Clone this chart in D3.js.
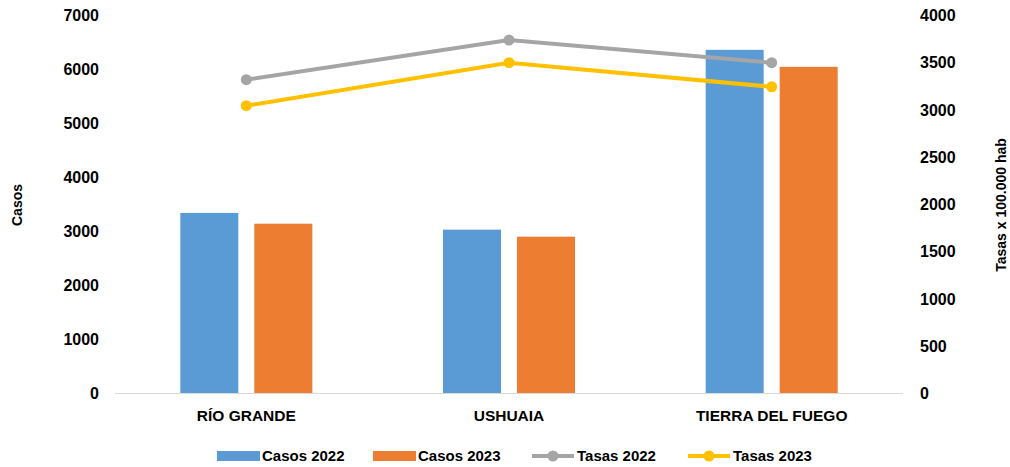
<!DOCTYPE html>
<html lang="es">
<head>
<meta charset="UTF-8">
<title>Casos y tasas</title>
<script src="https://cdn.jsdelivr.net/npm/d3@7"></script>
<style>
  body { margin: 0; background: #fff; }
  text { font-family: "Liberation Sans Narrow", "Arial Narrow", "Liberation Sans", sans-serif; font-weight: bold; fill: #000; }
</style>
</head>
<body>
<script>
    var width = 1010;
    var height = 467;

    var categories = ["RÍO GRANDE", "USHUAIA", "TIERRA DEL FUEGO"];
    var casos2022 = [3335, 3025, 6355];
    var casos2023 = [3135, 2895, 6040];
    var tasas2022 = [3315, 3735, 3495];
    var tasas2023 = [3040, 3495, 3240];
    var leftTicks = [0, 1000, 2000, 3000, 4000, 5000, 6000, 7000];
    var rightTicks = [0, 500, 1000, 1500, 2000, 2500, 3000, 3500, 4000];

    var colors = { c22: "#5b9bd5", c23: "#ed7d31", t22: "#a5a5a5", t23: "#ffc000" };

    var x0 = 115, x1 = 903, yTop = 15, yBase = 393;

    var svg = d3.select("body").append("svg")
        .attr("width", width)
        .attr("height", height)

    var x = d3.scaleBand().domain(categories).range([x0, x1]).padding(0)
    var yL = d3.scaleLinear().domain([0, 7000]).range([yBase, yTop])
    var yR = d3.scaleLinear().domain([0, 4000]).range([yBase, yTop])

    // bars
    var barW = 58, gap = 16;
    var bars = [
        { vals: casos2022, color: colors.c22, off: -gap / 2 - barW },
        { vals: casos2023, color: colors.c23, off: gap / 2 }
    ];
    bars.forEach(function(s) {
        svg.append("g").selectAll("rect")
            .data(s.vals)
            .join("rect")
            .attr("x", (d, i) => x(categories[i]) + x.bandwidth() / 2 + s.off)
            .attr("y", d => yL(d))
            .attr("width", barW)
            .attr("height", d => yBase - yL(d))
            .attr("fill", s.color)
    });

    // baseline
    svg.append("line")
        .attr("x1", x0).attr("x2", x1)
        .attr("y1", yBase + 0.5).attr("y2", yBase + 0.5)
        .attr("stroke", "#d9d9d9")
        .attr("stroke-width", 1)

    // left axis
    var axL = svg.append("g")
        .attr("transform", "translate(" + (x0 - 16) + ",0)")
        .call(d3.axisLeft(yL).tickValues(leftTicks).tickFormat(d3.format("d")).tickSize(0).tickPadding(0))
    axL.select(".domain").remove()
    axL.selectAll("text").style("font-size", "16px").attr("dy", "0.35em")

    // right axis
    var axR = svg.append("g")
        .attr("transform", "translate(" + (x1 + 17) + ",0)")
        .call(d3.axisRight(yR).tickValues(rightTicks).tickFormat(d3.format("d")).tickSize(0).tickPadding(0))
    axR.select(".domain").remove()
    axR.selectAll("text").style("font-size", "16px").attr("dy", "0.35em")

    // category labels
    svg.append("g").selectAll("text")
        .data(categories)
        .join("text")
        .attr("x", d => x(d) + x.bandwidth() / 2)
        .attr("y", 421)
        .attr("text-anchor", "middle")
        .style("font-size", "15.5px")
        .text(d => d)

    // lines
    var lineSeries = [
        { vals: tasas2022, color: colors.t22 },
        { vals: tasas2023, color: colors.t23 }
    ];
    var line = d3.line()
        .x((d, i) => x(categories[i]) + x.bandwidth() / 2)
        .y(d => yR(d))
    lineSeries.forEach(function(s) {
        svg.append("path")
            .datum(s.vals)
            .attr("d", line)
            .attr("fill", "none")
            .attr("stroke", s.color)
            .attr("stroke-width", 4)
        svg.append("g").selectAll("circle")
            .data(s.vals)
            .join("circle")
            .attr("cx", (d, i) => x(categories[i]) + x.bandwidth() / 2)
            .attr("cy", d => yR(d))
            .attr("r", 5.5)
            .attr("fill", s.color)
    });

    // axis titles
    svg.append("text")
        .attr("transform", "translate(22,205) rotate(-90)")
        .attr("text-anchor", "middle")
        .style("font-size", "14px")
        .text("Casos")
    svg.append("text")
        .attr("transform", "translate(1006,205) rotate(-90)")
        .attr("text-anchor", "middle")
        .style("font-size", "14px")
        .text("Tasas x 100.000 hab")

    // legend
    var legend = [
        { name: "Casos 2022", color: colors.c22, type: "rect", x: 217 },
        { name: "Casos 2023", color: colors.c23, type: "rect", x: 373 },
        { name: "Tasas 2022", color: colors.t22, type: "line", x: 532 },
        { name: "Tasas 2023", color: colors.t23, type: "line", x: 688 }
    ];
    var ly = 456;
    var lg = svg.append("g").selectAll("g").data(legend).join("g")
        .attr("transform", d => "translate(" + d.x + "," + ly + ")")
    lg.filter(d => d.type == "rect").append("rect")
        .attr("x", 0).attr("y", -5).attr("width", 43).attr("height", 10)
        .attr("fill", d => d.color)
    lg.filter(d => d.type == "line").append("line")
        .attr("x1", 0).attr("x2", 42).attr("y1", 0).attr("y2", 0)
        .attr("stroke", d => d.color).attr("stroke-width", 4)
    lg.filter(d => d.type == "line").append("circle")
        .attr("cx", 21).attr("cy", 0).attr("r", 5.5)
        .attr("fill", d => d.color)
    lg.append("text")
        .attr("x", 45).attr("dy", "0.35em")
        .style("font-size", "15px")
        .text(d => d.name)
</script>
</body>
</html>
